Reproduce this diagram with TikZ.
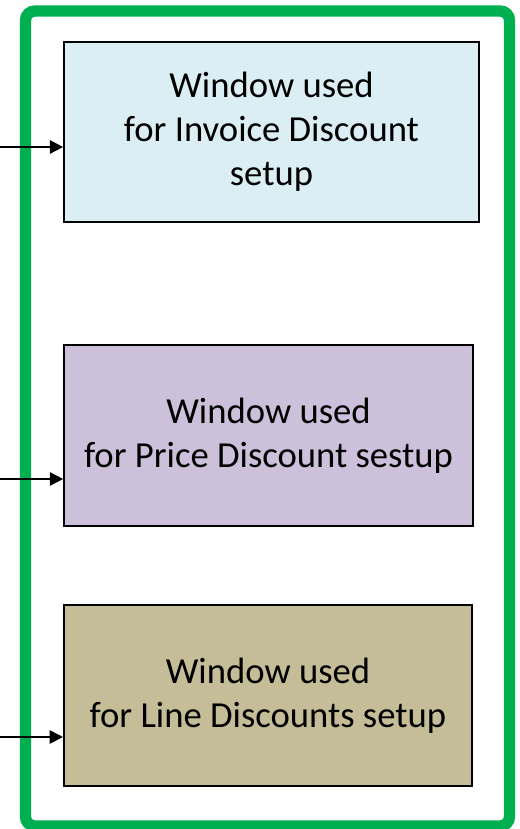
\documentclass[tikz,border=0pt]{standalone}
\usepackage{fontspec}
\setmainfont{Carlito}
\usetikzlibrary{positioning}
\usetikzlibrary{arrows.meta}
\definecolor{frame}{HTML}{00B050}
\definecolor{invfill}{HTML}{DAEEF3}
\definecolor{pricefill}{HTML}{CCC0DA}
\definecolor{linefill}{HTML}{C4BD97}
\tikzset{winbox/.style={shape=rectangle, draw=black, line width=1.5pt, align=center,
    font=\fontsize{27.5}{33}\selectfont, inner sep=0pt},
  feed/.style={-{Triangle[length=10pt, width=10pt]}, line width=1.2pt}}

\begin{document}
\begin{tikzpicture}[x=0.75pt, y=-0.75pt]
    \useasboundingbox (0,0) rectangle (520,829);
    \draw[frame, line width=8.5pt, rounded corners=7pt] (25.5,11) rectangle (509.5,826);

    \node (inv) [winbox, fill=invfill, minimum width=311pt, minimum height=135pt] at (271.5,132)
      {Window used\\for Invoice Discount\\setup};
    \node (price) [winbox, fill=pricefill, minimum width=306.5pt, minimum height=135.5pt] at (268.5,435.5)
      {Window used\\for Price Discount sestup};
    \node (disc) [winbox, fill=linefill, minimum width=306pt, minimum height=135.5pt] at (268,695.5)
      {Window used\\for Line Discounts setup};

    \coordinate (in1) at (0,147);
    \coordinate (in2) at (0,479);
    \coordinate (in3) at (0,737);
    \draw[feed] (in1) -- (in1 -| inv.west);
    \draw[feed] (in2) -- (in2 -| price.west);
    \draw[feed] (in3) -- (in3 -| disc.west);
  \end{tikzpicture}
\end{document}
